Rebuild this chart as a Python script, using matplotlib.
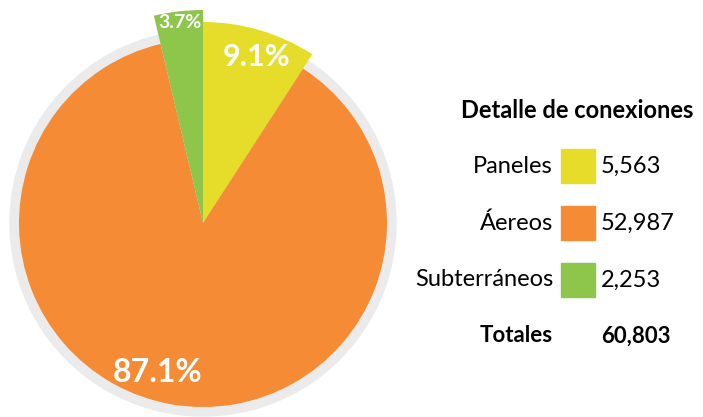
import matplotlib.pyplot as plt
from matplotlib.patches import Circle, Rectangle
import numpy as np

# data
categorias = ["Paneles", "Áereos", "Subterráneos"]
conexiones = [5563, 52987, 2253]
colores = ["#E6DC2A", "#F58B35", "#8DC64B"]
radios = [201, 184, 213]          # each slice drawn at its own radius
titulo = "Detalle de conexiones"
total = sum(conexiones)

plt.rcParams['font.family'] = ['Lato', 'DejaVu Sans']

fig = plt.figure(figsize=(7.03, 4.17), dpi=100)
ax = fig.add_axes([0, 0, 1, 1])

centro = (203, 194)

# grey ring behind the pie
ax.add_patch(Circle(centro, 193, color="#EBEBEB", zorder=0))

wedges, _ = ax.pie(conexiones, colors=colores, startangle=90, counterclock=False,
                   center=centro, radius=184, frame=True)
for w, r in zip(wedges, radios):
    w.set_radius(r)
    w.set_zorder(2)
ax.set_xlim(0, 703)
ax.set_ylim(0, 417)
ax.set_aspect('equal')
ax.axis('off')

# percentage labels inside the slices
ajustes = [(-1.5, 0.87, 22), (-7, 0.85, 23), (0, 0.95, 14)]   # (angle offset, radial frac, fontsize)
for w, r, (da, fr, fs) in zip(wedges, radios, ajustes):
    ang = np.deg2rad((w.theta1 + w.theta2) / 2 + da)
    x = centro[0] + r * fr * np.cos(ang)
    y = centro[1] + r * fr * np.sin(ang)
    pct = 100 * (w.theta2 - w.theta1) / 360
    ax.text(x, y, f"{pct:.1f}%", ha='center', va='center', color='white',
            fontsize=fs, fontweight='bold', zorder=3)

# legend table on the right
ax.text(577, 417 - 110, titulo, ha='center', va='center', fontsize=17, fontweight='bold')
filas_y = [417 - 166, 417 - 223, 417 - 280]
for cat, val, col, yy in zip(categorias, conexiones, colores, filas_y):
    ax.text(553, yy, cat, ha='right', va='center', fontsize=17)
    ax.add_patch(Rectangle((561, yy - 17), 34, 34, color=col))
    ax.text(601, yy, f"{val:,}", ha='left', va='center', fontsize=17)
ax.text(553, 417 - 336, "Totales", ha='right', va='center', fontsize=16, fontweight='bold')
ax.text(601, 417 - 336, f"{total:,}", ha='left', va='center', fontsize=16, fontweight='bold')

fig.savefig("out.png", dpi=100)
